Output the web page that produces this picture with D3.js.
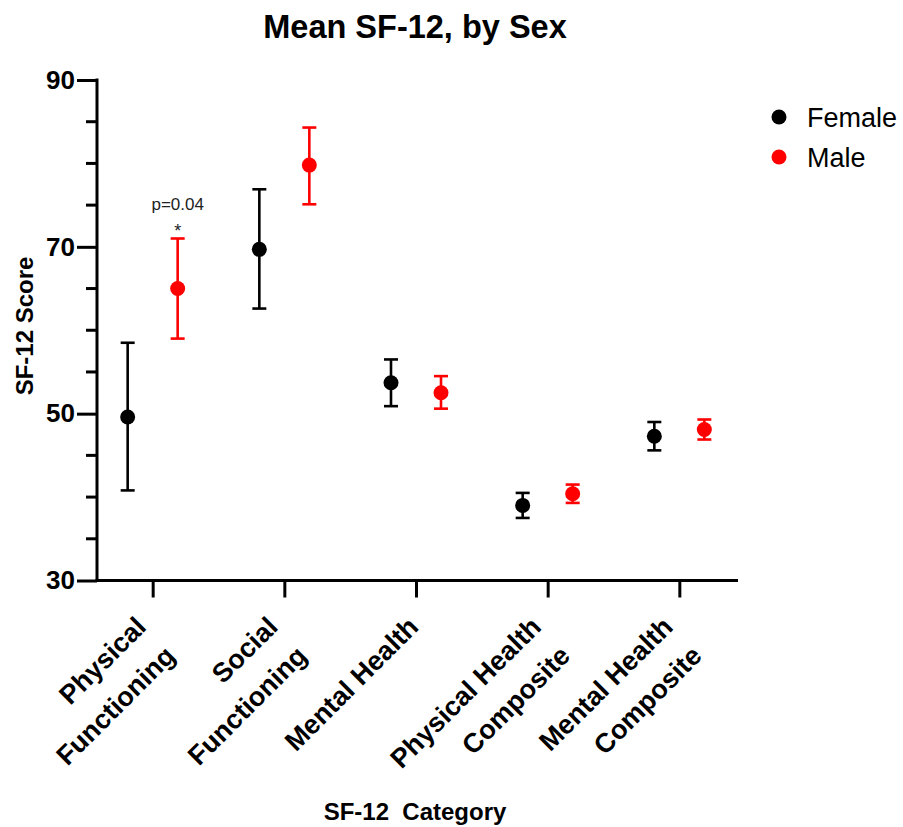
<!DOCTYPE html>
<html>
<head>
<meta charset="utf-8">
<script src="https://cdn.jsdelivr.net/npm/d3@7"></script>
<style>
  html, body { margin: 0; padding: 0; background: #fff; }
  svg { display: block; font-family: "Liberation Sans", Arial, sans-serif; }
</style>
</head>
<body>
<svg id="chart" width="903" height="827"></svg>
<script>
// ---- data ----
const categories = ["Physical Functioning", "Social Functioning", "Mental Health", "Physical Health Composite", "Mental Health Composite"];
const categoryLines = [["Physical", "Functioning"], ["Social", "Functioning"], ["Mental Health"], ["Physical Health", "Composite"], ["Mental Health", "Composite"]];
const sexes = ["Female", "Male"];
const femaleMean = [49.6, 69.7, 53.7, 39.0, 47.3];
const femaleLow  = [40.8, 62.6, 50.9, 37.5, 45.6];
const femaleHigh = [58.5, 76.9, 56.5, 40.5, 49.0];
const maleMean = [65.0, 79.8, 52.5, 40.4, 48.1];
const maleLow  = [59.0, 75.1, 50.6, 39.3, 46.9];
const maleHigh = [71.0, 84.3, 54.5, 41.5, 49.3];
const yTicks = [30, 50, 70, 90];
const yMinorTicks = [35, 40, 45, 55, 60, 65, 75, 80, 85];
const annotation = { category: "Physical Functioning", sex: "Male", text: "p=0.04", star: "*" };

const colors = { Female: "#000000", Male: "#ff0000" };

const svg = d3.select("#chart");

const axisX = 97;
const y = d3.scaleLinear().domain([30, 90]).range([580.5, 80]);
const x = d3.scalePoint().domain(categories).range([100, 732]).padding(0.4);
const dodge = d3.scalePoint().domain(sexes).range([-25, 25]);

// title
svg.append("text").attr("x", 415).attr("y", 38).attr("text-anchor", "middle")
  .attr("font-size", 32.5).attr("font-weight", "bold").text("Mean SF-12, by Sex");

// y axis
const yAxisG = svg.append("g").attr("transform", `translate(${axisX},0)`);
yAxisG.call(d3.axisLeft(y).tickValues(yTicks).tickSize(20).tickPadding(2).tickFormat(d3.format("d")));
yAxisG.selectAll(".tick line").attr("stroke", "#000").attr("stroke-width", 3);
yAxisG.select(".domain").remove();
yAxisG.selectAll(".tick text").attr("font-size", 26).attr("font-weight", "bold")
  .attr("fill", "#000").attr("font-family", "Liberation Sans, Arial, sans-serif");
yAxisG.append("g").selectAll("line").data(yMinorTicks).join("line")
  .attr("x1", -11).attr("x2", 0).attr("y1", d => y(d)).attr("y2", d => y(d))
  .attr("stroke", "#000").attr("stroke-width", 3);
yAxisG.append("line").attr("x1", 0).attr("x2", 0).attr("y1", y(90) - 1.5).attr("y2", y(30) + 1.5)
  .attr("stroke", "#000").attr("stroke-width", 3);

// x axis
const xAxisG = svg.append("g").attr("transform", `translate(0,${y(30)})`);
xAxisG.call(d3.axisBottom(x).tickSize(17).tickFormat(""));
xAxisG.select(".domain").remove();
xAxisG.selectAll(".tick line").attr("stroke", "#000").attr("stroke-width", 3);
xAxisG.append("line").attr("x1", axisX - 1.5).attr("x2", 738).attr("y1", 0).attr("y2", 0)
  .attr("stroke", "#000").attr("stroke-width", 3);

// x tick labels (rotated, end-aligned lines)
categories.forEach((c, i) => {
  const lines = categoryLines[i];
  const dx = lines.length > 1 ? -5 : 4;
  const g = svg.append("g")
    .attr("transform", `translate(${x(c) + dx},${y(30) + 48}) rotate(-45)`);
  lines.forEach((ln, j) => {
    g.append("text").attr("x", 0).attr("y", j * 41).attr("text-anchor", "end")
      .attr("font-size", 27).attr("font-weight", "bold").text(ln);
  });
});

// axis titles
svg.append("text").attr("transform", "translate(33,326) rotate(-90)").attr("text-anchor", "middle")
  .attr("font-size", 24).attr("font-weight", "bold").text("SF-12 Score");
svg.append("text").attr("x", 415).attr("y", 820).attr("text-anchor", "middle")
  .attr("font-size", 24).attr("font-weight", "bold").attr("xml:space", "preserve")
  .style("white-space", "pre").text("SF-12  Category");

// data rows
const rows = [];
categories.forEach((c, i) => {
  rows.push({ cat: c, sex: "Female", mean: femaleMean[i], lo: femaleLow[i], hi: femaleHigh[i] });
  rows.push({ cat: c, sex: "Male", mean: maleMean[i], lo: maleLow[i], hi: maleHigh[i] });
});

const cap = 7;
const pts = svg.append("g").selectAll("g").data(rows).join("g")
  .attr("transform", d => `translate(${x(d.cat) + dodge(d.sex)},0)`);
pts.append("line").attr("x1", 0).attr("x2", 0).attr("y1", d => y(d.lo)).attr("y2", d => y(d.hi))
  .attr("stroke", d => colors[d.sex]).attr("stroke-width", 2.6);
pts.append("line").attr("x1", -cap).attr("x2", cap).attr("y1", d => y(d.lo)).attr("y2", d => y(d.lo))
  .attr("stroke", d => colors[d.sex]).attr("stroke-width", 2.6);
pts.append("line").attr("x1", -cap).attr("x2", cap).attr("y1", d => y(d.hi)).attr("y2", d => y(d.hi))
  .attr("stroke", d => colors[d.sex]).attr("stroke-width", 2.6);
pts.append("circle").attr("cx", 0).attr("cy", d => y(d.mean)).attr("r", 7.5)
  .attr("fill", d => colors[d.sex]);

// annotation
const annRow = rows.find(r => r.cat === annotation.category && r.sex === annotation.sex);
const ax = x(annRow.cat) + dodge(annRow.sex);
svg.append("text").attr("x", ax).attr("y", y(annRow.hi) - 28).attr("text-anchor", "middle")
  .attr("font-size", 17).attr("fill", "#222").text(annotation.text);
svg.append("text").attr("x", ax).attr("y", y(annRow.hi) - 1).attr("text-anchor", "middle")
  .attr("font-size", 18).attr("fill", "#222").text(annotation.star);

// legend
const leg = svg.append("g").selectAll("g").data(sexes).join("g")
  .attr("transform", (d, i) => `translate(779,${117 + i * 40})`);
leg.append("circle").attr("r", 7.5).attr("fill", d => colors[d]);
leg.append("text").attr("x", 28).attr("y", 10).attr("font-size", 27).text(d => d);
</script>
</body>
</html>
